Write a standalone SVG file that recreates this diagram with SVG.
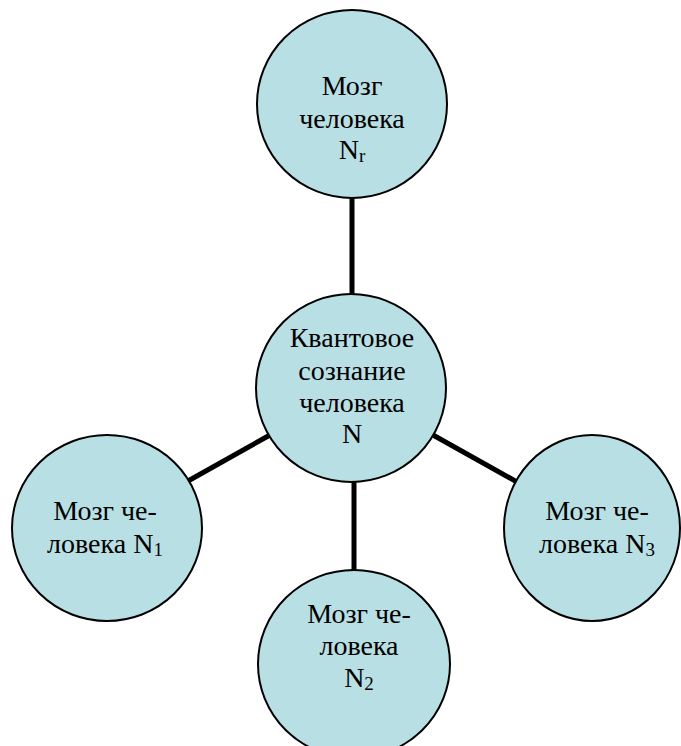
<svg xmlns="http://www.w3.org/2000/svg" width="681" height="746" viewBox="0 0 681 746">
<style>
.n{fill:#b8dfe3;stroke:#000;stroke-width:2}
.c{stroke:#000;stroke-width:5;fill:none}
text{font-family:"Liberation Serif","Times New Roman",serif;font-size:28px;fill:#000;text-anchor:middle}
.s{font-size:19px}
</style>
<rect width="681" height="746" fill="#fff"/>
<g id="connectors">
<line class="c" x1="352" y1="197" x2="352" y2="294"/>
<line class="c" x1="270" y1="435" x2="188" y2="481"/>
<line class="c" x1="433" y1="435" x2="517" y2="482"/>
<line class="c" x1="354" y1="481" x2="354" y2="571"/>
</g>
<g id="top">
<ellipse class="n" cx="352" cy="104" rx="95" ry="94"/>
<text x="352" y="95">Мозг</text>
<text x="352" y="128">человека</text>
<text x="352" y="159">N<tspan class="s" dy="3">r</tspan></text>
</g>
<g id="center">
<ellipse class="n" cx="351" cy="388" rx="95" ry="94"/>
<text x="352" y="347">Квантовое</text>
<text x="352" y="380">сознание</text>
<text x="352" y="412">человека</text>
<text x="352" y="443">N</text>
</g>
<g id="left">
<ellipse class="n" cx="107" cy="528" rx="95" ry="93"/>
<text x="105" y="520">Мозг че-</text>
<text x="105" y="553">ловека N<tspan class="s" dy="3">1</tspan></text>
</g>
<g id="right">
<ellipse class="n" cx="592" cy="528" rx="88" ry="93"/>
<text x="597" y="520">Мозг че-</text>
<text x="597" y="553">ловека N<tspan class="s" dy="3">3</tspan></text>
</g>
<g id="bottom">
<ellipse class="n" cx="354" cy="664" rx="96" ry="94"/>
<text x="359" y="623">Мозг че-</text>
<text x="359" y="655">ловека</text>
<text x="359" y="687">N<tspan class="s" dy="3">2</tspan></text>
</g>
</svg>
